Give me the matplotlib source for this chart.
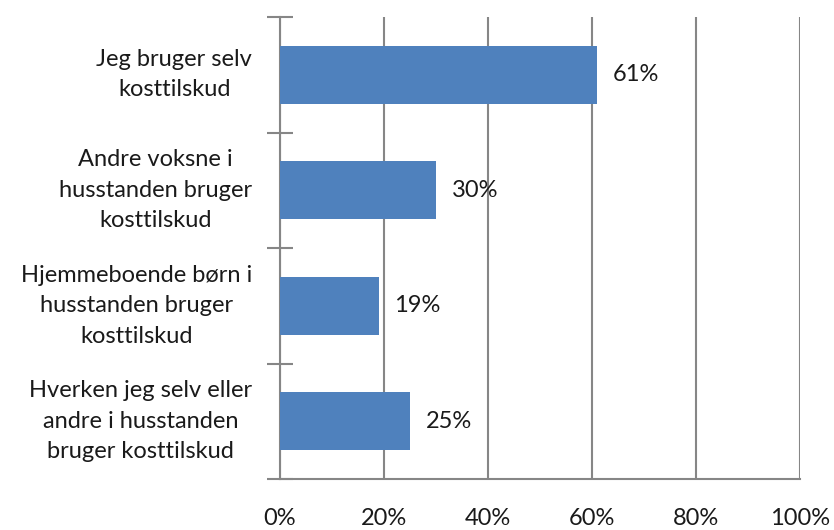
import matplotlib
matplotlib.use("Agg")
import matplotlib.pyplot as plt
import numpy as np

categories = [
    "Jeg bruger selv\nkosttilskud",
    "Andre voksne i\nhusstanden bruger\nkosttilskud",
    "Hjemmeboende børn i\nhusstanden bruger\nkosttilskud",
    "Hverken jeg selv eller\nandre i husstanden\nbruger kosttilskud",
]
values = [61, 30, 19, 25]
xticks = [0, 20, 40, 60, 80, 100]
xticklabels = ["0%", "20%", "40%", "60%", "80%", "100%"]

plt.rcParams['font.family'] = ['Lato', 'DejaVu Sans']
txt = '#1a1a1a'
grid_c = '#868686'
bar_c = '#4f81bd'
fs = 17

fig = plt.figure(figsize=(8.34, 5.30), dpi=100)
ax = fig.add_axes([280/834, 1-479/530, (800-280)/834, (479-17)/530])

y = np.arange(len(categories))
ax.barh(y, values, height=0.5, color=bar_c, zorder=3)
ax.set_ylim(len(categories)-0.5, -0.5)
ax.set_xlim(0, 100)

for yi, v in zip(y, values):
    ax.text(v + 3.0, yi, f"{v}%", va='center', ha='left', fontsize=fs, color=txt, zorder=4)

ax.set_xticks(xticks)
ax.set_xticklabels(xticklabels, fontsize=fs, color=txt)
ax.tick_params(axis='x', length=0, pad=21)

ax.set_yticks(y)
ax.set_yticklabels(categories, fontsize=fs, color=txt, multialignment='center', linespacing=1.55)
for lbl in ax.get_yticklabels():
    lbl.set_verticalalignment('center')
ax.set_yticks(np.arange(-0.5, len(categories)), minor=True)
ax.tick_params(axis='y', which='major', length=0, pad=20)
ax.tick_params(axis='y', which='minor', length=19, direction='inout', color=grid_c, width=1.5)

ax.grid(axis='x', color=grid_c, linewidth=1.5, zorder=1)
for s in ['top', 'right']:
    ax.spines[s].set_visible(False)
ax.spines['left'].set_color(grid_c)
ax.spines['left'].set_linewidth(1.5)
ax.spines['bottom'].set_color(grid_c)
ax.spines['bottom'].set_linewidth(1.5)
ax.spines['bottom'].set_zorder(2)

fig.savefig("out.png", dpi=100, facecolor='white')
